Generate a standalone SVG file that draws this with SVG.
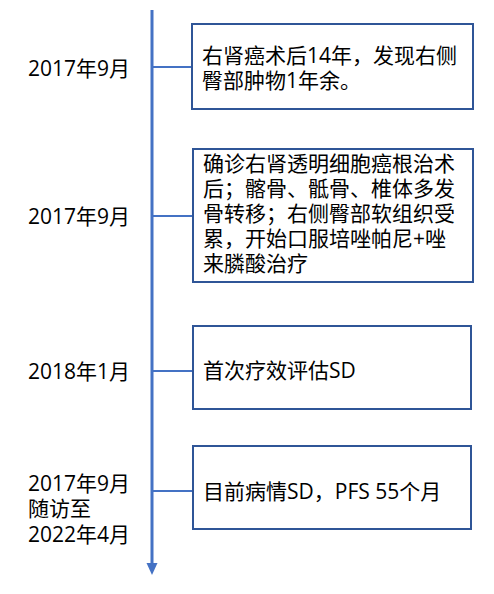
<svg xmlns="http://www.w3.org/2000/svg" width="494" height="594" viewBox="0 0 494 594">
<style>
text{font-family:"Open Sans","Noto Sans CJK SC",sans-serif;font-size:21px;fill:#000}
.box{fill:#fff;stroke:#2F5597;stroke-width:2}
.conn{stroke:#4472C4;stroke-width:2;fill:none}
.axis{stroke:#4472C4;stroke-width:3;fill:none}
.head{fill:#4472C4}
</style>
<g id="connectors">
<line class="axis" x1="152" y1="10" x2="152" y2="564"/>
<path class="head" d="M146.5,563 L157.5,563 L152,575 Z"/>
<line class="conn" x1="153" y1="67" x2="192" y2="67"/>
<line class="conn" x1="153" y1="216" x2="193" y2="216"/>
<line class="conn" x1="153" y1="371" x2="193" y2="371"/>
<line class="conn" x1="153" y1="491" x2="193" y2="491"/>
</g>
<g id="label1"><text x="28" y="76">2017年9月</text></g>
<g id="label2"><text x="28" y="224">2017年9月</text></g>
<g id="label3"><text x="28" y="379">2018年1月</text></g>
<g id="label4"><text x="28" y="491">2017年9月</text><text x="28" y="516">随访至</text><text x="28" y="542">2022年4月</text></g>
<g id="node1"><rect class="box" x="192" y="24" width="281" height="85"/>
<text x="202" y="63">右肾癌术后14年，发现右侧</text><text x="202" y="88">臀部肿物1年余。</text></g>
<g id="node2"><rect class="box" x="193" y="149" width="280" height="133"/>
<text x="203" y="171">确诊右肾透明细胞癌根治术</text>
<text x="203" y="196">后；髂骨、骶骨、椎体多发</text>
<text x="203" y="221">骨转移；右侧臀部软组织受</text>
<text x="203" y="246">累，开始口服培唑帕尼+唑</text>
<text x="203" y="271">来膦酸治疗</text></g>
<g id="node3"><rect class="box" x="193" y="326" width="278" height="83"/>
<text x="203" y="378">首次疗效评估SD</text></g>
<g id="node4"><rect class="box" x="193" y="446" width="278" height="83"/>
<text x="203" y="499">目前病情SD，PFS 55个月</text></g>
</svg>
